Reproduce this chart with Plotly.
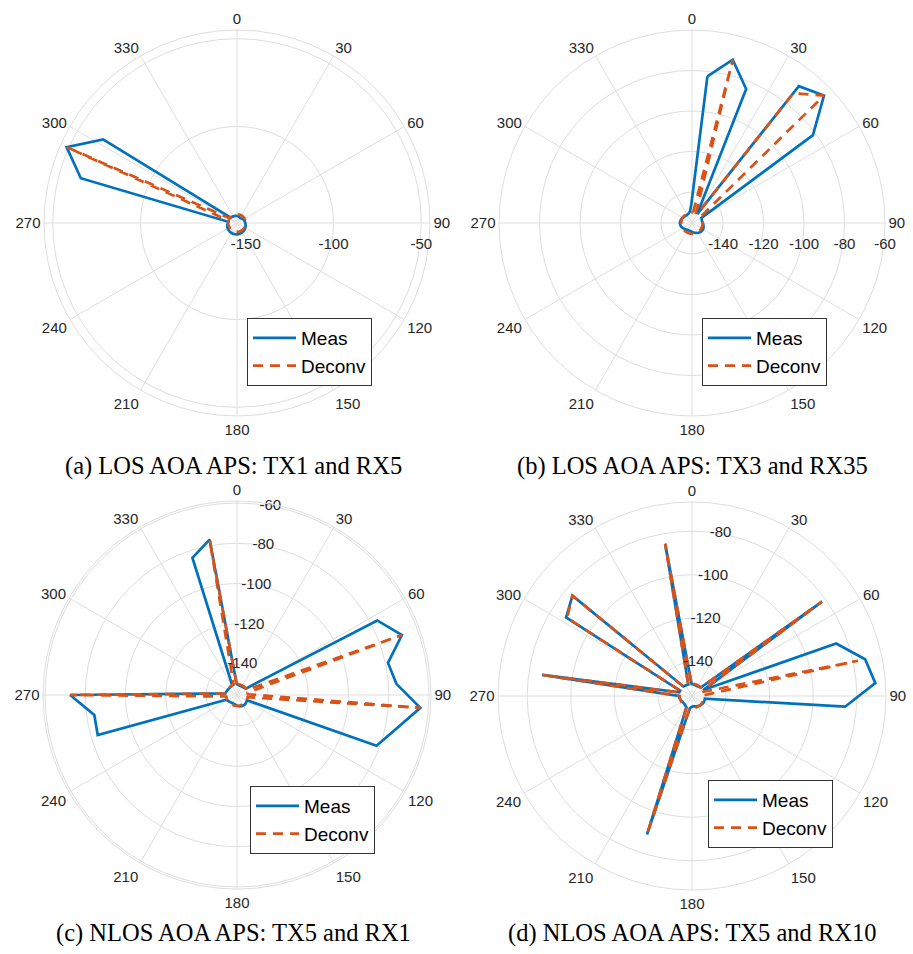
import plotly.graph_objects as go

# ---------------- data ----------------
THETA = [6, 14, 22, 30, 38, 46, 54, 62, 70, 78, 86, 94, 102, 110, 118, 126, 134, 142,
         150, 158, 166, 174, 182, 190, 198, 206, 214, 222, 230, 238, 246, 254, 262, 270,
         278, 286, 294, 302, 310, 318, 326, 334, 342, 350, 358]

ANG_TICKS = [0, 30, 60, 90, 120, 150, 180, 210, 240, 270, 300, 330]
ANG_LABELS = ["0", "30", "60", "90", "120", "150", "180", "210", "240", "270", "300", "330"]

# (a) LOS TX1-RX5
A_MEAS = [-151.0, -151.3, -151.5, -151.6, -151.5, -151.3, -151.0, -150.8, -150.6, -150.5,
          -150.4, -150.2, -150.0, -149.8, -149.6, -149.4, -149.2, -149.0, -148.9, -148.8,
          -148.7, -148.6, -148.5, -148.5, -148.5, -148.5, -148.5, -148.6, -148.7, -148.8,
          -149.0, -149.2, -149.5, -149.8, -150.0, -62.4, -48.7, -65.0, -150.3, -150.5,
          -150.6, -150.7, -150.8, -150.9, -151.0]
A_DECONV = [-150, -150, -150, -150, -150, -150, -150, -150, -150, -150,
            -150, -150, -150, -150, -150, -150, -150, -150, -150, -150,
            -150, -150, -150, -150, -150, -150, -150, -150, -150, -150,
            -150, -150, -150, -150, -150, -150, -48.7, -150, -150, -150,
            -150, -150, -150, -150, -150]
A_RTICKS = [-150, -100, -50]
A_RANGE = [-155, -45]

# (b) LOS TX3-RX35
B_MEAS = [-82.5, -72.2, -83.9, -150.2, -69.6, -64.7, -81.5, -150.0, -150.2, -150.3,
          -150.1, -149.8, -149.5, -149.2, -149.0, -149.0, -149.1, -149.3, -149.6, -150.0,
          -150.4, -150.7, -151.0, -151.2, -151.3, -151.3, -151.2, -151.0, -150.7, -150.3,
          -149.9, -149.6, -149.4, -149.3, -149.4, -149.6, -149.9, -150.2, -150.4, -150.6,
          -150.6, -150.5, -150.2, -149.5, -146.0]
B_DECONV = [-150, -72.2, -150, -150, -74.0, -64.7, -150, -150, -150, -150,
            -150, -150, -150, -150, -150, -150, -150, -150, -150, -150,
            -150, -150, -150, -150, -150, -150, -150, -150, -150, -150,
            -150, -150, -150, -150, -150, -150, -150, -150, -150, -150,
            -150, -150, -150, -150, -150]
B_RTICKS = [-140, -120, -100, -80, -60]
B_RANGE = [-155.3, -60]

# (c) NLOS TX5-RX1
C_MEAS = [-150.3, -150.5, -150.6, -150.6, -150.5, -150.3, -150.0, -76.5, -68.2, -78.7,
          -76.0, -64.1, -74.5, -81.6, -149.8, -149.6, -149.4, -149.3, -149.3, -149.4,
          -149.6, -149.9, -150.2, -150.5, -150.7, -150.8, -150.8, -150.6, -150.3, -150.0,
          -149.6, -83.4, -83.8, -72.5, -149.5, -149.8, -150.0, -150.2, -150.3, -150.3,
          -150.2, -150.0, -83.7, -77.0, -149.8]
C_DECONV = [-150, -150, -150, -150, -150, -150, -150, -150, -68.2, -150,
            -150, -64.1, -150, -150, -150, -150, -150, -150, -150, -150,
            -150, -150, -150, -150, -150, -150, -150, -150, -150, -150,
            -150, -150, -150, -72.5, -150, -150, -150, -150, -150, -150,
            -150, -150, -150, -77.0, -150]
C_RTICKS = [-140, -120, -100, -80, -60]
C_RANGE = [-155.4, -59]

# (d) NLOS TX5-RX10
D_MEAS = [-150.2, -150.4, -150.5, -150.5, -150.3, -150.0, -81.9, -149.8, -85.2, -74.4,
          -71.3, -85.2, -149.6, -149.5, -149.5, -149.6, -149.8, -150.0, -150.3, -150.5,
          -150.7, -150.8, -150.6, -150.0, -88.8, -149.8, -150.2, -150.5, -150.6, -150.5,
          -150.3, -150.0, -149.7, -149.5, -86.2, -149.5, -149.6, -87.5, -84.0, -149.7,
          -149.9, -150.0, -150.1, -84.7, -150.1]
D_DECONV = [-150, -150, -150, -150, -150, -150, -81.9, -150, -150, -77.8,
            -150, -150, -150, -150, -150, -150, -150, -150, -150, -150,
            -150, -150, -150, -150, -88.8, -150, -150, -150, -150, -150,
            -150, -150, -150, -150, -86.2, -150, -150, -88.0, -84.0, -150,
            -150, -150, -150, -84.7, -150]
D_RTICKS = [-140, -120, -100, -80]
D_RANGE = [-155.6, -66.6]

CAPTIONS = ["(a) LOS AOA APS: TX1 and RX5", "(b) LOS AOA APS: TX3 and RX35",
            "(c) NLOS AOA APS: TX5 and RX1", "(d) NLOS AOA APS: TX5 and RX10"]

# ---------------- style ----------------
W, H = 913, 954
BLUE = "#0072BD"
ORANGE = "#D95319"
GRID = "#dedede"
TXT = "#262626"
SANS = "Liberation Sans, Arial, sans-serif"
SERIF = "Liberation Serif, Times New Roman, serif"

# rlab: "axis" -> radial axis tick labels below the 90-degree spoke,
#       number -> tick labels written along that theta (MATLAB style)
panels = [
    dict(meas=A_MEAS, dec=A_DECONV, rt=A_RTICKS, rng=A_RANGE, c=(237, 223), R=193, rlab="axis",
         leg=(247, 318), cap=(234, 466)),
    dict(meas=B_MEAS, dec=B_DECONV, rt=B_RTICKS, rng=B_RANGE, c=(692, 223), R=193, rlab="axis",
         leg=(702, 318), cap=(692, 466)),
    dict(meas=C_MEAS, dec=C_DECONV, rt=C_RTICKS, rng=C_RANGE, c=(237, 695), R=194, rlab=10,
         leg=(250, 786), cap=(234, 933)),
    dict(meas=D_MEAS, dec=D_DECONV, rt=D_RTICKS, rng=D_RANGE, c=(692, 696), R=194, rlab=10,
         leg=(708, 780), cap=(692, 933)),
]

fig = go.Figure()
layout = dict(width=W, height=H, margin=dict(l=0, r=0, t=0, b=0, autoexpand=False),
              paper_bgcolor="white", plot_bgcolor="white", annotations=[])

for i, p in enumerate(panels):
    pk = "polar" if i == 0 else f"polar{i+1}"
    lk = "legend" if i == 0 else f"legend{i+1}"
    th = THETA + [THETA[0] + 360]
    fig.add_trace(go.Scatterpolar(theta=th, r=p["meas"] + [p["meas"][0]], mode="lines",
                                  line=dict(color=BLUE, width=2.7), name="Meas",
                                  subplot=pk, legend=lk, hoverinfo="skip"))
    fig.add_trace(go.Scatterpolar(theta=th, r=p["dec"] + [p["dec"][0]], mode="lines",
                                  line=dict(color=ORANGE, width=2.7, dash="10px,7px"), name="Deconv",
                                  subplot=pk, legend=lk, hoverinfo="skip"))
    axis_labels = p["rlab"] == "axis"
    if not axis_labels:
        fig.add_trace(go.Scatterpolar(theta=[p["rlab"]] * len(p["rt"]), r=p["rt"], mode="text",
                                      text=[str(v) for v in p["rt"]], textposition="middle center",
                                      textfont=dict(family=SANS, size=15, color=TXT),
                                      showlegend=False, hoverinfo="skip", subplot=pk))
    cx, cy = p["c"]
    R = p["R"]
    layout[pk] = dict(
        domain=dict(x=[(cx - R) / W, (cx + R) / W], y=[(H - cy - R) / H, (H - cy + R) / H]),
        bgcolor="white",
        angularaxis=dict(rotation=90, direction="clockwise", tickmode="array",
                         tickvals=ANG_TICKS, ticktext=ANG_LABELS, ticks="", ticklen=0,
                         showgrid=True, gridcolor=GRID, gridwidth=1,
                         showline=True, linecolor=GRID, linewidth=1,
                         tickfont=dict(family=SANS, size=15, color=TXT)),
        radialaxis=dict(range=p["rng"], tickmode="array", tickvals=p["rt"],
                        ticktext=[str(v) for v in p["rt"]], showline=False,
                        ticks="outside" if axis_labels else "", ticklen=7,
                        tickcolor="rgba(0,0,0,0)",
                        showticklabels=axis_labels,
                        showgrid=True, gridcolor=GRID, gridwidth=1,
                        angle=0, side="clockwise",
                        tickfont=dict(family=SANS, size=15, color=TXT)),
    )
    lx, ly = p["leg"]
    layout[lk] = dict(x=lx / W, y=(H - ly) / H, xanchor="left", yanchor="top",
                      bgcolor="white", bordercolor="#333333", borderwidth=1,
                      font=dict(family=SANS, size=19, color="black"),
                      itemwidth=43, tracegroupgap=0)
    capx, capy = p["cap"]
    layout["annotations"].append(dict(text=CAPTIONS[i], xref="paper", yref="paper",
                                      x=capx / W, y=(H - capy) / H, xanchor="center",
                                      yanchor="middle", showarrow=False,
                                      font=dict(family=SERIF, size=24.5, color="black")))

fig.update_layout(**layout)
# place the 913x954 figure at the page origin (no default body margin), no toolbar
fig.write_html("out.html", config={"displayModeBar": False},
               post_script="document.body.style.margin='0';")
